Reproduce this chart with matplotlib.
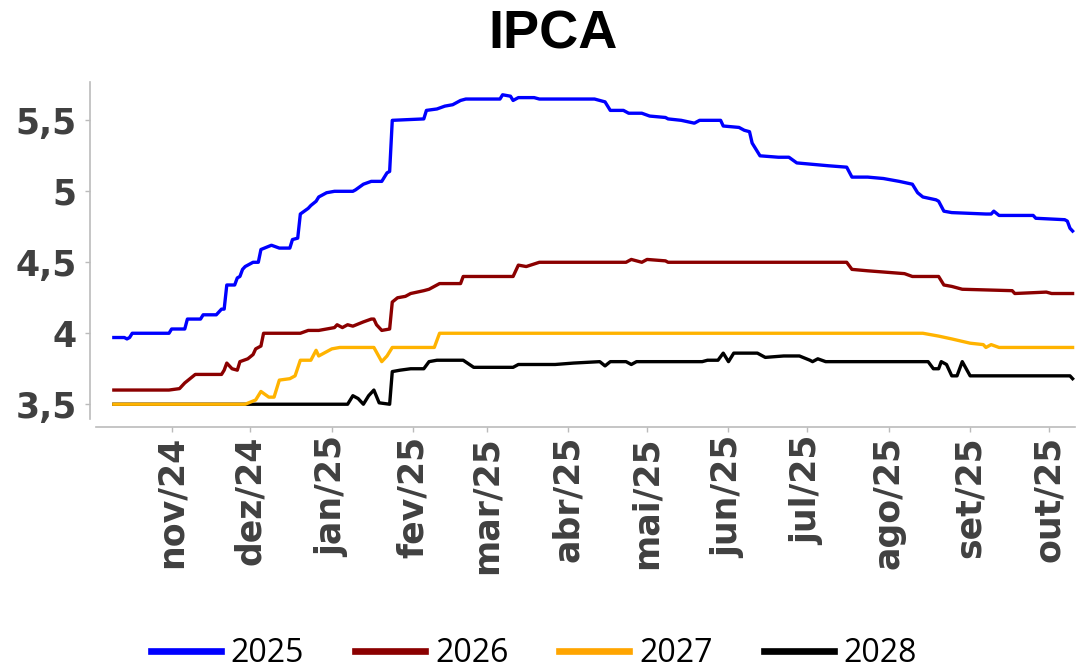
import numpy as np
import pandas as pd
import matplotlib
matplotlib.use("Agg")
import matplotlib.pyplot as plt
from matplotlib.lines import Line2D

# ---------------- data ----------------
dates_2025 = ["2024-10-10", "2024-10-14", "2024-10-15", "2024-10-16", "2024-10-17", "2024-10-31",
              "2024-11-01", "2024-11-06", "2024-11-07", "2024-11-12", "2024-11-13", "2024-11-18",
              "2024-11-20", "2024-11-21", "2024-11-22", "2024-11-25", "2024-11-26", "2024-11-27",
              "2024-11-28", "2024-11-29", "2024-12-02", "2024-12-04", "2024-12-05", "2024-12-09",
              "2024-12-12", "2024-12-16", "2024-12-17", "2024-12-19", "2024-12-20", "2024-12-23",
              "2024-12-24", "2024-12-26", "2024-12-27", "2024-12-30", "2025-01-02", "2025-01-09",
              "2025-01-10", "2025-01-13", "2025-01-16", "2025-01-20", "2025-01-21", "2025-01-22",
              "2025-01-23", "2025-01-24", "2025-02-05", "2025-02-06", "2025-02-10", "2025-02-13",
              "2025-02-16", "2025-02-19", "2025-02-21", "2025-03-06", "2025-03-07", "2025-03-10",
              "2025-03-11", "2025-03-13", "2025-03-19", "2025-03-21", "2025-04-11", "2025-04-15",
              "2025-04-17", "2025-04-22", "2025-04-24", "2025-04-29", "2025-05-02", "2025-05-08",
              "2025-05-09", "2025-05-14", "2025-05-19", "2025-05-21", "2025-05-29", "2025-05-30",
              "2025-06-05", "2025-06-07", "2025-06-09", "2025-06-10", "2025-06-11", "2025-06-13",
              "2025-06-20", "2025-06-24", "2025-06-27", "2025-07-03", "2025-07-09", "2025-07-16",
              "2025-07-18", "2025-07-24", "2025-07-30", "2025-08-05", "2025-08-10", "2025-08-12",
              "2025-08-14", "2025-08-19", "2025-08-20", "2025-08-22", "2025-08-25", "2025-09-07",
              "2025-09-09", "2025-09-10", "2025-09-12", "2025-09-25", "2025-09-26", "2025-10-07",
              "2025-10-08", "2025-10-09", "2025-10-10"]
ipca_2025 = [3.97, 3.97, 3.96, 3.97, 4.00, 4.00,
             4.03, 4.03, 4.10, 4.10, 4.13, 4.13,
             4.17, 4.17, 4.34, 4.34, 4.39, 4.40,
             4.45, 4.47, 4.50, 4.50, 4.59, 4.62,
             4.60, 4.60, 4.66, 4.67, 4.84, 4.88,
             4.90, 4.93, 4.96, 4.99, 5.00, 5.00,
             5.01, 5.05, 5.07, 5.07, 5.10, 5.13,
             5.14, 5.50, 5.51, 5.57, 5.58, 5.60,
             5.61, 5.64, 5.65, 5.65, 5.68, 5.67,
             5.64, 5.66, 5.66, 5.65, 5.65, 5.63,
             5.57, 5.57, 5.55, 5.55, 5.53, 5.52,
             5.51, 5.50, 5.48, 5.50, 5.50, 5.46,
             5.45, 5.43, 5.42, 5.34, 5.31, 5.25,
             5.24, 5.24, 5.20, 5.19, 5.18, 5.17,
             5.10, 5.10, 5.09, 5.07, 5.05, 4.99,
             4.96, 4.94, 4.93, 4.86, 4.85, 4.84,
             4.84, 4.86, 4.83, 4.83, 4.81, 4.80,
             4.79, 4.74, 4.72]

dates_2026 = ["2024-10-10", "2024-10-31", "2024-11-04", "2024-11-06", "2024-11-10", "2024-11-20",
              "2024-11-21", "2024-11-22", "2024-11-24", "2024-11-26", "2024-11-27", "2024-11-30",
              "2024-12-02", "2024-12-03", "2024-12-05", "2024-12-06", "2024-12-20", "2024-12-23",
              "2024-12-27", "2025-01-02", "2025-01-03", "2025-01-05", "2025-01-07", "2025-01-09",
              "2025-01-13", "2025-01-16", "2025-01-17", "2025-01-18", "2025-01-20", "2025-01-23",
              "2025-01-24", "2025-01-26", "2025-01-29", "2025-01-31", "2025-02-05", "2025-02-07",
              "2025-02-11", "2025-02-19", "2025-02-20", "2025-03-11", "2025-03-13", "2025-03-16",
              "2025-03-21", "2025-04-23", "2025-04-25", "2025-04-29", "2025-05-01", "2025-05-08",
              "2025-05-09", "2025-07-16", "2025-07-18", "2025-07-24", "2025-07-31", "2025-08-07",
              "2025-08-10", "2025-08-20", "2025-08-22", "2025-08-25", "2025-08-29", "2025-09-17",
              "2025-09-18", "2025-09-30", "2025-10-02", "2025-10-10"]
ipca_2026 = [3.60, 3.60, 3.61, 3.65, 3.71, 3.71,
             3.74, 3.79, 3.75, 3.74, 3.80, 3.82,
             3.85, 3.89, 3.91, 4.00, 4.00, 4.02,
             4.02, 4.04, 4.06, 4.04, 4.06, 4.05,
             4.08, 4.10, 4.10, 4.06, 4.02, 4.03,
             4.22, 4.25, 4.26, 4.28, 4.30, 4.31,
             4.35, 4.35, 4.40, 4.40, 4.48, 4.47,
             4.50, 4.50, 4.52, 4.50, 4.52, 4.51,
             4.50, 4.50, 4.45, 4.44, 4.43, 4.42,
             4.40, 4.40, 4.34, 4.33, 4.31, 4.30,
             4.28, 4.29, 4.28, 4.28]

dates_2027 = ["2024-10-10", "2024-11-29", "2024-12-03", "2024-12-05", "2024-12-08", "2024-12-10",
              "2024-12-12", "2024-12-16", "2024-12-18", "2024-12-20", "2024-12-24", "2024-12-26",
              "2024-12-27", "2024-12-30", "2025-01-01", "2025-01-04", "2025-01-17", "2025-01-20",
              "2025-01-22", "2025-01-24", "2025-02-09", "2025-02-11", "2025-08-14", "2025-08-20",
              "2025-08-25", "2025-09-01", "2025-09-06", "2025-09-07", "2025-09-09", "2025-09-12",
              "2025-10-10"]
ipca_2027 = [3.50, 3.50, 3.53, 3.59, 3.55, 3.55,
             3.67, 3.68, 3.70, 3.81, 3.81, 3.88,
             3.84, 3.87, 3.89, 3.90, 3.90, 3.80,
             3.84, 3.90, 3.90, 4.00, 4.00, 3.98,
             3.96, 3.93, 3.92, 3.90, 3.92, 3.90,
             3.90]

dates_2028 = ["2024-10-10", "2025-01-07", "2025-01-09", "2025-01-11", "2025-01-13", "2025-01-15",
              "2025-01-17", "2025-01-19", "2025-01-23", "2025-01-24", "2025-01-27", "2025-01-31",
              "2025-02-05", "2025-02-07", "2025-02-10", "2025-02-20", "2025-02-24", "2025-03-11",
              "2025-03-13", "2025-03-27", "2025-04-03", "2025-04-13", "2025-04-15", "2025-04-17",
              "2025-04-23", "2025-04-25", "2025-04-27", "2025-05-22", "2025-05-24", "2025-05-28",
              "2025-05-30", "2025-06-01", "2025-06-03", "2025-06-12", "2025-06-15", "2025-06-22",
              "2025-06-28", "2025-07-02", "2025-07-03", "2025-07-05", "2025-07-08", "2025-08-16",
              "2025-08-18", "2025-08-20", "2025-08-21", "2025-08-23", "2025-08-25", "2025-08-27",
              "2025-08-29", "2025-09-01", "2025-10-09", "2025-10-10"]
ipca_2028 = [3.50, 3.50, 3.56, 3.54, 3.50, 3.56,
             3.60, 3.51, 3.50, 3.73, 3.74, 3.75,
             3.75, 3.80, 3.81, 3.81, 3.76, 3.76,
             3.78, 3.78, 3.79, 3.80, 3.77, 3.80,
             3.80, 3.78, 3.80, 3.80, 3.81, 3.81,
             3.86, 3.80, 3.86, 3.86, 3.83, 3.84,
             3.84, 3.81, 3.80, 3.82, 3.80, 3.80,
             3.75, 3.75, 3.80, 3.78, 3.70, 3.70,
             3.80, 3.70, 3.70, 3.68]

series_labels = ["2025", "2026", "2027", "2028"]
tick_dates = ["2024-11-01", "2024-12-01", "2025-01-01", "2025-02-01", "2025-03-01", "2025-04-01",
              "2025-05-01", "2025-06-01", "2025-07-01", "2025-08-01", "2025-09-01", "2025-10-01"]
tick_labels = ["nov/24", "dez/24", "jan/25", "fev/25", "mar/25", "abr/25",
               "mai/25", "jun/25", "jul/25", "ago/25", "set/25", "out/25"]
y_ticks = [3.5, 4.0, 4.5, 5.0, 5.5]
y_tick_labels = ["3,5", "4", "4,5", "5", "5,5"]

# ---------------- figure ----------------
W, H = 1080, 670
fig = plt.figure(figsize=(W / 100, H / 100), dpi=100)
ax = fig.add_axes([96 / W, 1 - 419 / H, (1075 - 96) / W, (419 - 82) / H])

# spines first (positioning them resets the tick objects)
for s in ["top", "right"]:
    ax.spines[s].set_visible(False)
for s in ["left", "bottom"]:
    ax.spines[s].set_color("#BBBBBB")
    ax.spines[s].set_linewidth(1.2)
ax.spines["left"].set_position(("outward", 4.3))
ax.spines["bottom"].set_position(("outward", 5.8))

line_colors = ["#0000FF", "#8B0000", "#FFB300", "#000000"]
legend_colors = ["#0000FF", "#8B0000", "#FFA500", "#000000"]
all_dates = [dates_2025, dates_2026, dates_2027, dates_2028]
all_vals = [ipca_2025, ipca_2026, ipca_2027, ipca_2028]
zorders = [5, 4, 3, 2]

for d, v, c, z, lab in zip(all_dates, all_vals, line_colors, zorders, series_labels):
    ax.plot(pd.to_datetime(d), v, color=c, lw=2.4, zorder=z, label=lab,
            solid_joinstyle="round")

ax.set_xlim(pd.Timestamp("2024-10-03 05:00"), pd.Timestamp("2025-10-10 22:00"))
ax.set_ylim(3.396, 5.77)

tick_font = {"family": "DejaVu Sans", "weight": "bold", "size": 25, "color": "#404040"}
ax.set_xticks(pd.to_datetime(tick_dates))
ax.set_xticklabels(tick_labels, rotation=90, fontdict=tick_font)
ax.set_yticks(y_ticks)
ax.set_yticklabels(y_tick_labels, fontdict=tick_font)

ax.tick_params(axis="both", which="major", length=3.5, width=1, color="#BBBBBB")
ax.tick_params(axis="y", pad=6)
ax.tick_params(axis="x", pad=3)

fig.text(553 / W, 1 - 34.5 / H, "IPCA", ha="center", va="center",
         fontsize=39, fontweight="bold", family=["Liberation Sans", "DejaVu Sans"])

handles = [Line2D([0], [0], color=c, lw=4.8) for c in legend_colors]
fig.legend(handles, series_labels, loc="center", bbox_to_anchor=(534 / W, 1 - 654 / H),
           ncol=4, frameon=False, prop={"family": ["Open Sans", "DejaVu Sans"], "size": 23},
           handlelength=2.19, handletextpad=0.31, columnspacing=1.6,
           borderpad=0.1)

fig.savefig("out.png", dpi=100, facecolor="white")
